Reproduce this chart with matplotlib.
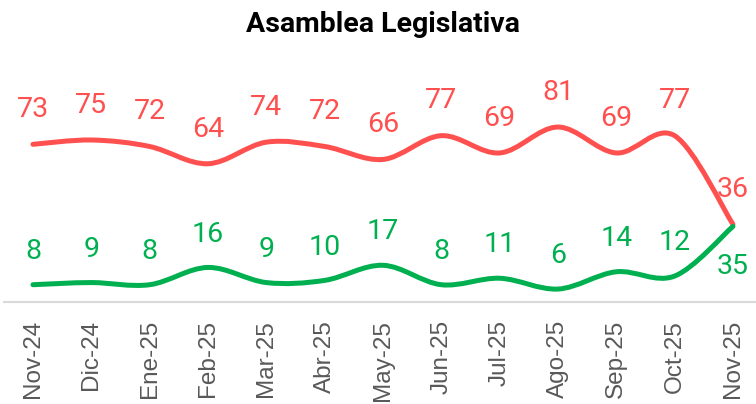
import matplotlib
matplotlib.use('Agg')
import matplotlib.pyplot as plt
from matplotlib.path import Path
from matplotlib.patches import PathPatch

months = ['Nov-24', 'Dic-24', 'Ene-25', 'Feb-25', 'Mar-25', 'Abr-25', 'May-25',
          'Jun-25', 'Jul-25', 'Ago-25', 'Sep-25', 'Oct-25', 'Nov-25']
red_vals = [73, 75, 72, 64, 74, 72, 66, 77, 69, 81, 69, 77, 36]
green_vals = [8, 9, 8, 16, 9, 10, 17, 8, 11, 6, 14, 12, 35]

RED = '#FF5050'
GREEN = '#00B050'


def smooth_path(xs, ys):
    # excel-like smoothed line: catmull-rom turned into cubic beziers
    pts = list(zip(xs, ys))
    n = len(pts)
    verts = [pts[0]]
    codes = [Path.MOVETO]
    for i in range(n - 1):
        p0 = pts[i - 1] if i > 0 else pts[i]
        p1 = pts[i]
        p2 = pts[i + 1]
        p3 = pts[i + 2] if i + 2 < n else pts[i + 1]
        c1 = (p1[0] + (p2[0] - p0[0]) / 6, p1[1] + (p2[1] - p0[1]) / 6)
        c2 = (p2[0] - (p3[0] - p1[0]) / 6, p2[1] - (p3[1] - p1[1]) / 6)
        verts += [c1, c2, p2]
        codes += [Path.CURVE4] * 3
    return Path(verts, codes)


fig = plt.figure(figsize=(7.56, 4.04), dpi=100)
ax = fig.add_axes([3.8 / 756, 102 / 404, 758.3 / 756, 216 / 404])
ax.set_xlim(-0.5, 12.5)
ax.set_ylim(0, 100)

x = list(range(len(months)))
for vals, col in [(red_vals, RED), (green_vals, GREEN)]:
    ax.add_patch(PathPatch(smooth_path(x, vals), facecolor='none', edgecolor=col,
                           lw=3.6, capstyle='round', joinstyle='round', zorder=3))

for i, v in enumerate(red_vals):
    ax.annotate(str(v), (i, v), xytext=(0, 25), textcoords='offset points',
                ha='center', va='center', color=RED, fontsize=20.5, family='Roboto')
for i, v in enumerate(green_vals):
    dy = -29 if i == len(green_vals) - 1 else 24
    ax.annotate(str(v), (i, v), xytext=(0, dy), textcoords='offset points',
                ha='center', va='center', color=GREEN, fontsize=20.5, family='Roboto')

ax.set_xticks(x)
ax.set_xticklabels(months, rotation=90, fontsize=17.5, color='#595959',
                   family='Liberation Sans')
ax.tick_params(axis='x', length=0, pad=13)
ax.set_yticks([])
for s in ['top', 'right', 'left']:
    ax.spines[s].set_visible(False)
ax.spines['bottom'].set_color('#D9D9D9')
ax.spines['bottom'].set_linewidth(1.5)

fig.text(0.506, 1 - 24 / 404, 'Asamblea Legislativa', ha='center', va='center',
         fontsize=20.5, fontweight='bold', family='Roboto')

fig.savefig('out.png', dpi=100)
